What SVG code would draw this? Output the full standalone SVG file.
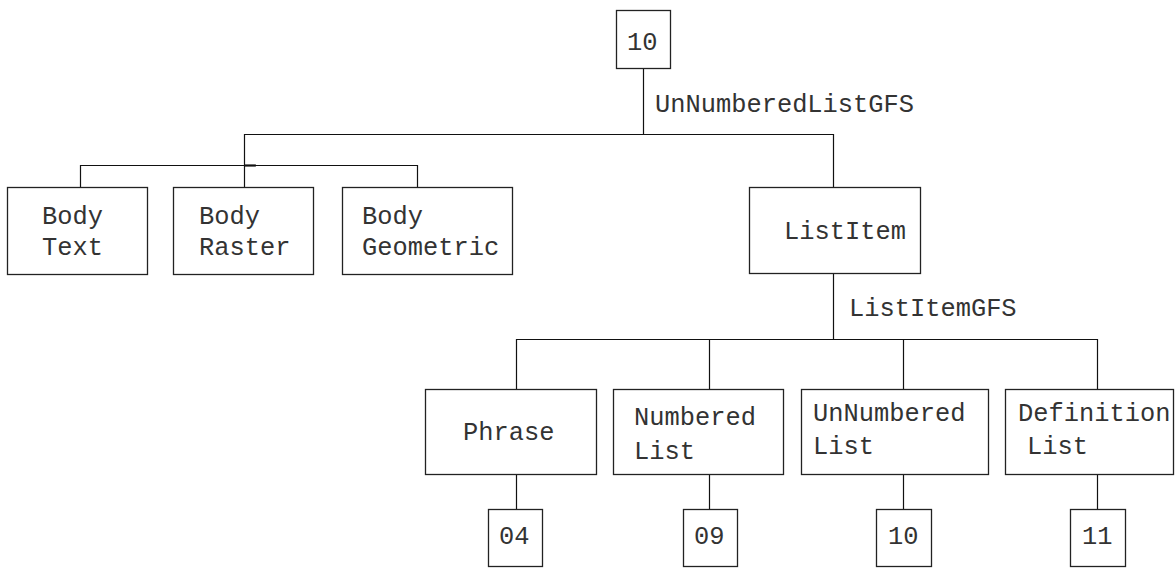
<svg xmlns="http://www.w3.org/2000/svg" width="1176" height="568" viewBox="0 0 1176 568">
<style>
.box{fill:#fff;stroke:#222;stroke-width:1.3}
.ln{fill:none;stroke:#111;stroke-width:1.2}
text{font-family:"Liberation Mono","DejaVu Sans Mono",monospace;font-size:25.4px;fill:#333}
</style>
<rect width="1176" height="568" fill="#fff"/>
<g id="connectors">
<path class="ln" d="M643.5,68 V134.5 M244,134.5 H833.5 M244.5,134 V187 M80,165.5 H417.5 M80.5,165 V187 M417.5,165 V187 M833.5,134 V187 M833.5,273 V339.5 M516,339.5 H1097.5 M516.5,339 V389 M709.5,339 V389 M903.5,339 V389 M1097.5,339 V389 M516.5,474 V509 M709.5,474 V509 M903.5,474 V509 M1097.5,474 V509"/>
<path d="M244,165.5 H256" stroke="#111" stroke-width="2.2"/>
</g>
<g id="n_top"><rect class="box" x="616.5" y="10.5" width="54" height="58"/><text x="627" y="50">10</text></g>
<text id="lbl1" x="655" y="112">UnNumberedListGFS</text>
<g id="n_bodytext"><rect class="box" x="7.5" y="187.5" width="140" height="87"/><text x="42" y="224">Body</text><text x="42" y="255">Text</text></g>
<g id="n_bodyraster"><rect class="box" x="173.5" y="187.5" width="140" height="87"/><text x="199" y="224">Body</text><text x="199" y="255">Raster</text></g>
<g id="n_bodygeom"><rect class="box" x="342.5" y="187.5" width="170" height="87"/><text x="362" y="224">Body</text><text x="362" y="255">Geometric</text></g>
<g id="n_listitem"><rect class="box" x="749.5" y="187.5" width="171" height="86"/><text x="784" y="239">ListItem</text></g>
<text id="lbl2" x="849" y="316">ListItemGFS</text>
<g id="n_phrase"><rect class="box" x="425.5" y="389.5" width="171" height="85"/><text x="463" y="440">Phrase</text></g>
<g id="n_numbered"><rect class="box" x="613.5" y="389.5" width="170" height="85"/><text x="634" y="425">Numbered</text><text x="634" y="459">List</text></g>
<g id="n_unnumbered"><rect class="box" x="801.5" y="389.5" width="187" height="85"/><text x="813" y="421">UnNumbered</text><text x="813" y="454">List</text></g>
<g id="n_definition"><rect class="box" x="1005.5" y="389.5" width="168" height="85"/><text x="1018" y="421">Definition</text><text x="1027" y="454">List</text></g>
<g id="n_04"><rect class="box" x="488.5" y="509.5" width="54" height="57"/><text x="499" y="544">04</text></g>
<g id="n_09"><rect class="box" x="683.5" y="509.5" width="54" height="57"/><text x="694" y="544">09</text></g>
<g id="n_10"><rect class="box" x="876.5" y="509.5" width="55" height="57"/><text x="888" y="544">10</text></g>
<g id="n_11"><rect class="box" x="1070.5" y="509.5" width="55" height="57"/><text x="1082" y="544">11</text></g>
</svg>
